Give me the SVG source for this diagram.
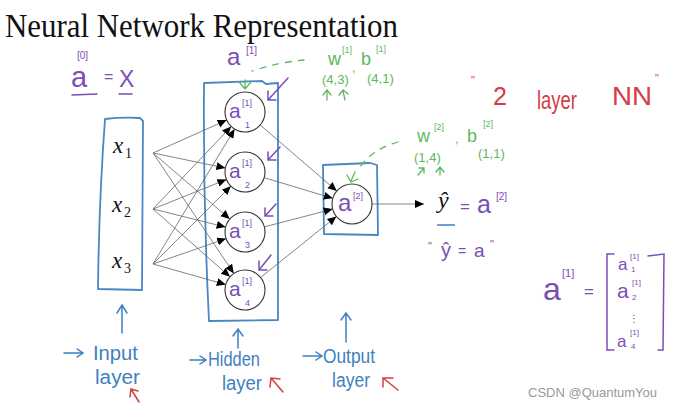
<svg xmlns="http://www.w3.org/2000/svg" width="693" height="410" viewBox="0 0 693 410">
<defs>
<marker id="ah" markerUnits="userSpaceOnUse" markerWidth="10" markerHeight="10" refX="9" refY="5" orient="auto">
<path d="M0,1 L9,5 L0,9 Z" fill="#000"/>
</marker>
</defs>
<style>
.box{fill:none;stroke:#4a86c5;stroke-width:1.8;stroke-linejoin:round;stroke-linecap:round}
.node{fill:#fff;stroke:#333;stroke-width:1.1}
.edge{stroke:#666;stroke-width:0.8;fill:none;marker-end:url(#ah)}
.hw{font-family:"Liberation Sans","DejaVu Sans",sans-serif}
.pu{fill:#7a4fb5}
.gr{fill:#5cb85c}
.bl{fill:#3f7fc0}
.rd{fill:#d53c44}
.pl{stroke:#7a4fb5;stroke-width:1.5;fill:none;stroke-linecap:round}
.bll{stroke:#3f7fc0;stroke-width:1.5;fill:none;stroke-linecap:round}
.rdl{stroke:#d53c44;stroke-width:1.5;fill:none;stroke-linecap:round}
.grl{stroke:#5cb85c;stroke-width:1.3;fill:none;stroke-linecap:round}
.x{font-family:"Liberation Serif",serif;font-style:italic;font-size:23px;fill:#111}
.xs{font-family:"Liberation Serif",serif;font-size:14px;fill:#111}
</style>

<text x="5" y="37" font-family="Liberation Serif,serif" font-size="33" textLength="393" lengthAdjust="spacingAndGlyphs" fill="#111">Neural Network Representation</text>

<!-- top annotations -->
<g id="a0eqx">
<text class="hw pu" x="71" y="87" font-size="29">a</text>
<text class="hw pu" x="77" y="59" font-size="10">[0]</text>
<text class="hw pu" x="104" y="82" font-size="16">=</text>
<text class="hw pu" x="119" y="87" font-size="23">X</text>
<path class="pl" d="M72,95 L97,94 M119,94 L132,94"/>
</g>

<g id="a1label">
<text class="hw pu" x="227" y="65" font-size="24">a</text>
<text class="hw pu" x="246" y="54" font-size="10">[1]</text>
</g>

<g id="w1b1">
<text class="hw gr" x="328" y="65" font-size="18">w</text>
<text class="hw gr" x="342" y="53" font-size="9">[1]</text>
<text class="hw gr" x="352" y="72" font-size="12">,</text>
<text class="hw gr" x="361" y="65" font-size="18">b</text>
<text class="hw gr" x="376" y="52" font-size="9">[1]</text>
<text class="hw gr" x="322" y="84" font-size="13">(4,3)</text>
<text class="hw gr" x="367" y="83" font-size="13">(4,1)</text>
<path class="grl" d="M327,100 L327,91 M323,95 L327,90 L331,95 M345,100 L343,91 M339,95 L343,90 L348,94"/>
</g>

<g id="twolayer">
<text class="hw rd" x="471" y="84" font-size="11">"</text>
<text class="hw rd" x="493" y="105" font-size="25">2</text>
<text class="hw rd" x="537" y="109" font-size="25" textLength="40" lengthAdjust="spacingAndGlyphs">layer</text>
<text class="hw rd" x="612" y="105" font-size="25" textLength="40" lengthAdjust="spacingAndGlyphs">NN</text>
<text class="hw rd" x="655" y="82" font-size="11">"</text>
</g>

<!-- boxes -->
<g id="inputlayer">
<path class="box" d="M105,119 Q122,117 140,118 L143,121 L142,290 L98,289 Q99,200 105,119 Z"/>
<text class="x" x="113" y="153">x</text><text class="xs" x="125" y="158">1</text>
<text class="x" x="112" y="212">x</text><text class="xs" x="124" y="217">2</text>
<text class="x" x="112" y="268">x</text><text class="xs" x="124" y="273">3</text>
</g>

<g id="hiddenbox">
<path class="box" d="M204,83 L262,81 L266,84 L278,83 L278,320 L209,321 Q203,200 204,83 Z"/>
</g>

<g id="outputbox">
<path class="box" d="M323,165 L370,163 L377,165 L378,235 L324,234 Z"/>
</g>

<!-- connectors -->
<g id="connectors">
<line class="edge" x1="153" y1="153" x2="226.7" y2="120.1"/>
<line class="edge" x1="153" y1="153" x2="225.4" y2="168.0"/>
<line class="edge" x1="153" y1="153" x2="229.8" y2="219.0"/>
<line class="edge" x1="153" y1="153" x2="233.8" y2="273.4"/>
<line class="edge" x1="153" y1="209" x2="231.2" y2="126.5"/>
<line class="edge" x1="153" y1="209" x2="226.4" y2="179.5"/>
<line class="edge" x1="153" y1="209" x2="225.6" y2="227.1"/>
<line class="edge" x1="153" y1="209" x2="230.0" y2="276.8"/>
<line class="edge" x1="153" y1="264" x2="234.6" y2="129.1"/>
<line class="edge" x1="153" y1="264" x2="230.9" y2="186.1"/>
<line class="edge" x1="153" y1="264" x2="226.1" y2="238.6"/>
<line class="edge" x1="153" y1="264" x2="225.8" y2="284.6"/>
<line class="edge" x1="260.2" y1="125.0" x2="336.8" y2="191.0"/>
<line class="edge" x1="264.2" y1="177.7" x2="332.8" y2="198.3"/>
<line class="edge" x1="264.3" y1="226.9" x2="332.7" y2="209.1"/>
<line class="edge" x1="260.6" y1="277.5" x2="336.4" y2="216.5"/>
<line class="edge" x1="372" y1="204" x2="424" y2="204"/>
<!-- green dashed pointers -->
<path class="grl" stroke-dasharray="6,7" d="M304,60 Q280,62 252,71"/>
<path class="grl" d="M245,80 L245,88 M239,82 L245,89 L251,82"/>
<path class="grl" stroke-dasharray="6,7" d="M398,142 Q370,150 358,170"/>
<path class="grl" d="M355,172 L351,181 M347,175 L351,182 L358,179"/>
<!-- purple pointers -->
<path class="pl" d="M288,78 L268,100 M268,91 L268,100 L276,100"/>
<path class="pl" d="M280,147 L268,160 M268,152 L268,160 L276,160"/>
<path class="pl" d="M276,204 L265,216 M265,208 L265,216 L273,216"/>
<path class="pl" d="M271,255 L259,270 M259,261 L259,270 L267,270"/>
</g>

<!-- hidden nodes -->
<g id="h1">
<circle class="node" cx="245" cy="112" r="20"/>
<text class="hw pu" x="229" y="118" font-size="21">a</text>
<text class="hw pu" x="242" y="106" font-size="9">[1]</text>
<text class="hw pu" x="245" y="128" font-size="9">1</text>
</g>
<g id="h2">
<circle class="node" cx="245" cy="172" r="20"/>
<text class="hw pu" x="229" y="178" font-size="21">a</text>
<text class="hw pu" x="242" y="166" font-size="9">[1]</text>
<text class="hw pu" x="245" y="188" font-size="9">2</text>
</g>
<g id="h3">
<circle class="node" cx="245" cy="232" r="20"/>
<text class="hw pu" x="229" y="238" font-size="21">a</text>
<text class="hw pu" x="242" y="226" font-size="9">[1]</text>
<text class="hw pu" x="245" y="248" font-size="9">3</text>
</g>
<g id="h4">
<circle class="node" cx="245" cy="290" r="20"/>
<text class="hw pu" x="229" y="296" font-size="21">a</text>
<text class="hw pu" x="242" y="284" font-size="9">[1]</text>
<text class="hw pu" x="245" y="306" font-size="9">4</text>
</g>
<g id="out">
<circle class="node" cx="352" cy="204" r="20"/>
<text class="hw pu" x="338" y="211" font-size="24">a</text>
<text class="hw pu" x="353" y="199" font-size="9">[2]</text>
</g>

<g id="w2b2">
<text class="hw gr" x="417" y="142" font-size="18">w</text>
<text class="hw gr" x="434" y="130" font-size="9">[2]</text>
<text class="hw gr" x="455" y="143" font-size="12">,</text>
<text class="hw gr" x="467" y="142" font-size="18">b</text>
<text class="hw gr" x="483" y="127" font-size="9">[2]</text>
<text class="hw gr" x="414" y="162" font-size="13">(1,4)</text>
<text class="hw gr" x="478" y="158" font-size="13">(1,1)</text>
<path class="grl" d="M418,175 L424,168 M419,168 L424,168 L424,173 M440,175 L440,168 M436,172 L440,167 L444,172"/>
</g>

<g id="yhat">
<text x="438" y="208" font-family="Liberation Serif,serif" font-style="italic" font-size="24" fill="#111">ŷ</text>
<path d="M437,225 L455,225" stroke="#3f7fc0" stroke-width="1.5"/>
<text class="hw pu" x="460" y="212" font-size="17">=</text>
<text class="hw pu" x="477" y="213" font-size="25">a</text>
<text class="hw pu" x="496" y="200" font-size="10">[2]</text>
<text class="hw pu" x="428" y="250" font-size="11">"</text>
<text class="hw pu" x="441" y="257" font-size="20">ŷ</text>
<text class="hw pu" x="458" y="256" font-size="14">=</text>
<text class="hw pu" x="474" y="257" font-size="19">a</text>
<text class="hw pu" x="490" y="248" font-size="11">"</text>
</g>

<g id="matrix">
<text class="hw pu" x="543" y="300" font-size="32">a</text>
<text class="hw pu" x="562" y="277" font-size="11">[1]</text>
<text class="hw pu" x="584" y="297" font-size="17">=</text>
<path class="pl" d="M614,254 L607,254 L607,350 L614,350 M648,256 L664,254 L663,350 L658,350"/>
<text class="hw pu" x="618" y="270" font-size="17">a</text>
<text class="hw pu" x="630" y="259" font-size="8">[1]</text>
<text class="hw pu" x="631" y="272" font-size="8">1</text>
<text class="hw pu" x="617" y="298" font-size="21">a</text>
<text class="hw pu" x="632" y="285" font-size="8">[1]</text>
<text class="hw pu" x="632" y="300" font-size="8">2</text>
<text class="hw pu" x="629" y="322" font-size="10">⋮</text>
<text class="hw pu" x="617" y="347" font-size="17">a</text>
<text class="hw pu" x="630" y="335" font-size="8">[1]</text>
<text class="hw pu" x="631" y="349" font-size="8">4</text>
</g>

<!-- bottom labels -->
<g id="inlabel">
<path class="bll" d="M122,333 L122,306 M117,313 L122,305 L127,313"/>
<path class="bll" d="M64,353 L82,353 M77,349 L83,353 L77,357"/>
<text class="hw bl" x="93" y="360" font-size="21" textLength="45" lengthAdjust="spacingAndGlyphs">Input</text>
<text class="hw bl" x="95" y="384" font-size="20" textLength="45" lengthAdjust="spacingAndGlyphs">layer</text>
<path class="rdl" d="M139,402 L131,389 M130,397 L131,389 L138,391"/>
</g>
<g id="hidlabel">
<path class="bll" d="M238,348 L238,330 M233,336 L238,329 L243,336"/>
<path class="bll" d="M190,360 L205,360 M200,356 L206,360 L200,364"/>
<text class="hw bl" x="208" y="366" font-size="21" textLength="52" lengthAdjust="spacingAndGlyphs">Hidden</text>
<text class="hw bl" x="222" y="390" font-size="20" textLength="40" lengthAdjust="spacingAndGlyphs">layer</text>
<path class="rdl" d="M283,392 L271,378 M270,387 L271,378 L280,379"/>
</g>
<g id="outlabel">
<path class="bll" d="M346,342 L346,314 M341,320 L346,313 L351,320"/>
<path class="bll" d="M303,356 L321,356 M316,352 L322,356 L316,360"/>
<text class="hw bl" x="323" y="363" font-size="21" textLength="52" lengthAdjust="spacingAndGlyphs">Output</text>
<text class="hw bl" x="332" y="387" font-size="20" textLength="38" lengthAdjust="spacingAndGlyphs">layer</text>
<path class="rdl" d="M398,390 L383,378 M383,387 L383,378 L393,378"/>
</g>

<text x="528" y="397" font-family="Liberation Sans,sans-serif" font-size="13" fill="#999">CSDN @QuantumYou</text>
</svg>
